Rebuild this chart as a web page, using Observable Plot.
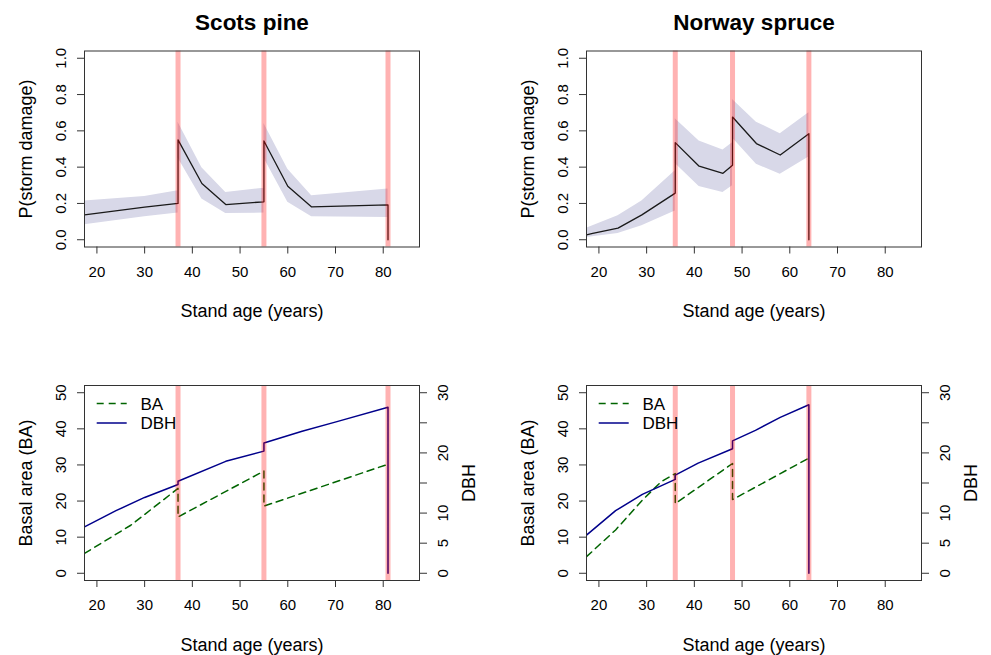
<!DOCTYPE html>
<html><head><meta charset="utf-8">
<script src="https://cdn.jsdelivr.net/npm/d3@7"></script>
<script src="https://cdn.jsdelivr.net/npm/@observablehq/plot@0.6"></script>
<style>
body{margin:0;background:#fff;}
#wrap{position:relative;width:991px;height:655px;overflow:hidden;font-family:"Liberation Sans",Arial,sans-serif;background:#fff;}
.panel{position:absolute;}
</style></head><body><div id="wrap"></div>
<script>
// ---- shared axes ----
const xTicks = [20, 30, 40, 50, 60, 70, 80];
const xDomain = [17.4, 87.6];
const pTicks = [0, 0.2, 0.4, 0.6, 0.8, 1.0];
const baTicks = [0, 10, 20, 30, 40, 50];
const dbhTicks = [0, 5, 10, 15, 20, 25, 30];
const dbhLabelled = [0, 5, 10, 20, 30];
const titles = ["Scots pine", "Norway spruce"];
const legendLabels = ["BA", "DBH"];

// ---- Scots pine: storm damage probability ----
const spAge = [17.4, 30, 37, 37, 42, 47, 55, 55, 60, 65, 81, 81];
const spP = [0.137, 0.18, 0.20, 0.55, 0.31, 0.194, 0.209, 0.544, 0.295, 0.181, 0.192, 0];
const spBandAge = [17.4, 30, 37, 37, 42, 47, 55, 55, 60, 65, 81];
const spLo = [0.082, 0.126, 0.147, 0.45, 0.224, 0.145, 0.147, 0.45, 0.207, 0.126, 0.123];
const spHi = [0.214, 0.238, 0.27, 0.648, 0.397, 0.26, 0.284, 0.64, 0.388, 0.242, 0.28];
const spThin = [37, 55, 81];

// ---- Norway spruce: storm damage probability ----
const nsAge = [17.4, 18.7, 24, 29, 36, 36, 41, 46, 48, 48, 53, 58, 64, 64];
const nsP = [0.027, 0.035, 0.064, 0.137, 0.257, 0.535, 0.405, 0.366, 0.41, 0.676, 0.53, 0.467, 0.584, 0];
const nsBandAge = [17.4, 24, 29, 36, 36, 41, 46, 48, 48, 53, 58, 64];
const nsLo = [0.013, 0.035, 0.077, 0.159, 0.42, 0.293, 0.26, 0.297, 0.56, 0.416, 0.361, 0.456];
const nsHi = [0.064, 0.132, 0.214, 0.38, 0.667, 0.544, 0.495, 0.535, 0.773, 0.648, 0.584, 0.70];
const nsThin = [36, 48, 64];

// ---- Scots pine: basal area and DBH ----
const spBaAge = [17.4, 27.1, 37, 37, 55, 55, 81];
const spBa = [5.5, 13.3, 23.5, 15.6, 28.3, 18.6, 30.2];
const spDbhAge = [17.4, 24, 30, 37, 37, 47, 55, 55, 63, 70.3, 81, 81];
const spDbh = [7.72, 10.4, 12.6, 14.75, 15.3, 18.6, 20.3, 21.65, 23.6, 25.2, 27.6, 0];

// ---- Norway spruce: basal area and DBH ----
const nsBaAge = [17.4, 23.5, 29, 33, 36, 36, 48, 48, 64];
const nsBa = [4.6, 12.0, 20.1, 25.3, 27.6, 19.3, 30.4, 20.4, 31.9];
const nsDbhAge = [17.4, 23.5, 29.1, 36, 36, 40.8, 48, 48, 52.8, 58, 64, 64];
const nsDbh = [6.35, 10.4, 13.1, 15.6, 16.3, 18.3, 20.7, 22.0, 23.75, 25.9, 28.0, 0];

const FONT = "Liberation Sans, Arial, Helvetica, sans-serif";
const dbhToBa = 50 / 30;

function stormPlot(title, age, p, bAge, lo, hi, thin, width) {
  const line = age.map((a, i) => ({age: a, p: p[i]}));
  const band = bAge.map((a, i) => ({age: a, lo: lo[i], hi: hi[i]}));
  return Plot.plot({
    width, height: 330,
    marginLeft: 84, marginRight: width - 419, marginTop: 50.5, marginBottom: 83.5,
    style: {fontFamily: FONT, fontSize: "15px", color: "#000", background: "transparent"},
    x: {domain: xDomain},
    y: {domain: [-0.04, 1.04]},
    marks: [
      Plot.areaY(band, {x: "age", y1: "lo", y2: "hi", fill: "#d8d8e8", clip: true}),
      Plot.line(line, {x: "age", y: "p", stroke: "#1a1a1a", strokeWidth: 1.3, clip: true}),
      Plot.ruleX(thin, {stroke: "red", strokeOpacity: 0.3, strokeWidth: 5}),
      Plot.frame({stroke: "#333"}),
      Plot.axisX({ticks: xTicks, tickSize: 7, tickPadding: 12, stroke: "#333", label: null, tickFormat: d => String(d)}),
      Plot.axisY({ticks: pTicks, tickSize: 7, tickPadding: 12, tickRotate: -90, stroke: "#333", label: null, tickFormat: d => d.toFixed(1)}),
      Plot.text([title], {text: d => d, frameAnchor: "top", lineAnchor: "middle", dy: -28, fontSize: 22.5, fontWeight: "bold"}),
      Plot.text(["Stand age (years)"], {text: d => d, frameAnchor: "bottom", lineAnchor: "middle", dy: 64.5, fontSize: 18}),
      Plot.text(["P(storm damage)"], {text: d => d, frameAnchor: "left", textAnchor: "middle", lineAnchor: "middle", dx: -58, rotate: -90, fontSize: 18})
    ]
  });
}

function growthPlot(baAge, ba, dbhAge, dbh, thin, width) {
  const baData = baAge.map((a, i) => ({age: a, v: ba[i]}));
  const dbhData = dbhAge.map((a, i) => ({age: a, v: dbh[i]}));
  const svg = Plot.plot({
    width, height: 325,
    marginLeft: 84, marginRight: width - 419, marginTop: 55, marginBottom: 75,
    style: {fontFamily: FONT, fontSize: "15px", color: "#000", background: "transparent"},
    x: {domain: xDomain},
    y: {domain: [-2, 52]},
    marks: [
      Plot.line(baData, {x: "age", y: "v", stroke: "#006400", strokeWidth: 1.5, strokeDasharray: "7,5", clip: true}),
      Plot.line(dbhData, {x: "age", y: d => d.v * dbhToBa, stroke: "#00008b", strokeWidth: 1.5, clip: true}),
      Plot.ruleX(thin, {stroke: "red", strokeOpacity: 0.3, strokeWidth: 5}),
      Plot.frame({stroke: "#333"}),
      Plot.axisX({ticks: xTicks, tickSize: 7, tickPadding: 12, stroke: "#333", label: null, tickFormat: d => String(d)}),
      Plot.axisY({ticks: baTicks, tickSize: 7, tickPadding: 12, tickRotate: -90, stroke: "#333", label: null, tickFormat: d => String(d)}),
      Plot.axisY({anchor: "right", ticks: dbhTicks.map(d => d * dbhToBa), tickSize: 7, tickPadding: 11, tickRotate: -90, lineAnchor: "top", stroke: "#333", label: null,
        tickFormat: d => { const v = Math.round(d / dbhToBa); return dbhLabelled.includes(v) ? String(v) : ""; }}),
      Plot.text(["Stand age (years)"], {text: d => d, frameAnchor: "bottom", lineAnchor: "middle", dy: 65, fontSize: 18}),
      Plot.text(["Basal area (BA)"], {text: d => d, frameAnchor: "left", textAnchor: "middle", lineAnchor: "middle", dx: -58, rotate: -90, fontSize: 18}),
      Plot.text(["DBH"], {text: d => d, frameAnchor: "right", textAnchor: "middle", lineAnchor: "middle", dx: 50, rotate: -90, fontSize: 18})
    ]
  });
  // legend (top-left, inside the box)
  const g = d3.select(svg).append("g").attr("transform", "translate(84,55)");
  const items = [
    {label: legendLabels[0], stroke: "#006400", dash: "7,5", y: 18.5},
    {label: legendLabels[1], stroke: "#00008b", dash: null, y: 38}
  ];
  for (const it of items) {
    g.append("line").attr("x1", 12.7).attr("x2", 42.7).attr("y1", it.y).attr("y2", it.y)
      .attr("stroke", it.stroke).attr("stroke-width", 1.5).attr("stroke-dasharray", it.dash);
    g.append("text").attr("x", 56.5).attr("y", it.y).attr("dy", "0.36em").attr("text-anchor", "start")
      .attr("font-family", FONT).attr("font-size", 17).attr("fill", "#000").text(it.label);
  }
  return svg;
}

const wrap = document.getElementById("wrap");
function place(el, left, top) {
  const d = document.createElement("div");
  d.className = "panel";
  d.style.left = left + "px";
  d.style.top = top + "px";
  d.appendChild(el);
  wrap.appendChild(d);
}
place(stormPlot(titles[0], spAge, spP, spBandAge, spLo, spHi, spThin, 500), 0, 0);
place(stormPlot(titles[1], nsAge, nsP, nsBandAge, nsLo, nsHi, nsThin, 489), 502, 0);
place(growthPlot(spBaAge, spBa, spDbhAge, spDbh, spThin, 500), 0, 330);
place(growthPlot(nsBaAge, nsBa, nsDbhAge, nsDbh, nsThin, 489), 502, 330);
</script></body></html>
